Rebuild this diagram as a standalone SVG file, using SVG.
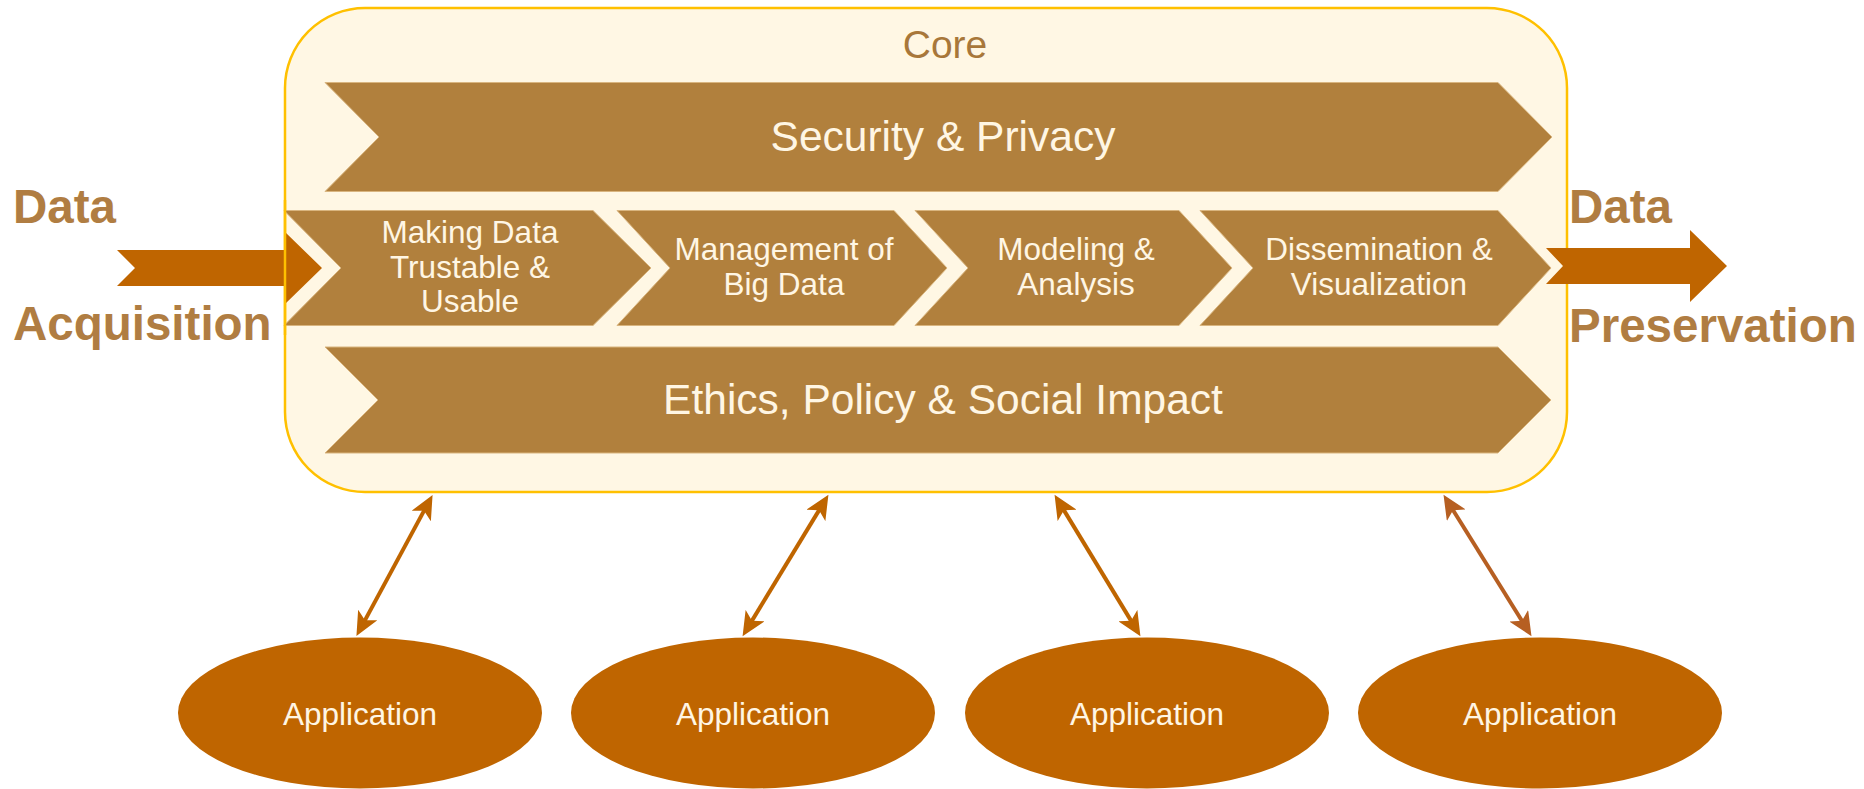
<svg xmlns="http://www.w3.org/2000/svg" width="1864" height="789" viewBox="0 0 1864 789">
<defs>
<style>
.band{fill:#B1803D;stroke:#D9B57F;stroke-width:1}
.flow{fill:#BF6500}
.lbl{font-family:"Liberation Sans",Arial,sans-serif;fill:#FFF6E4;text-anchor:middle}
.side{font-family:"Liberation Sans",Arial,sans-serif;font-weight:bold;font-size:47.5px;fill:#B07D42}
.app{fill:#BF6500}
.conn{stroke:#BF6500;stroke-width:4;fill:none;marker-start:url(#ah);marker-end:url(#ah)}
.conn4{stroke:#B65F22;stroke-width:4;fill:none;marker-start:url(#ah4);marker-end:url(#ah4)}
</style>
<marker id="ah" markerUnits="userSpaceOnUse" markerWidth="26" markerHeight="22" refX="7" refY="11" orient="auto-start-reverse" viewBox="0 0 26 22">
<path d="M0,0 L24,11 L0,22 L6,11 Z" fill="#BF6500"/>
</marker>
<marker id="ah4" markerUnits="userSpaceOnUse" markerWidth="26" markerHeight="22" refX="7" refY="11" orient="auto-start-reverse" viewBox="0 0 26 22">
<path d="M0,0 L24,11 L0,22 L6,11 Z" fill="#B65F22"/>
</marker>
</defs>

<g id="core">
<rect x="285" y="8" width="1282" height="484" rx="80" ry="80" fill="#FFF7E4" stroke="#FFC000" stroke-width="2.5"/>
<text x="945" y="58" class="lbl" style="font-size:39px;fill:#A8773A">Core</text>
</g>

<g id="security">
<polygon class="band" points="325,82.5 1498,82.5 1552,137 1498,191.5 325,191.5 379,137"/>
<text x="943" y="151" class="lbl" style="font-size:42.5px">Security &amp; Privacy</text>
</g>

<g id="ethics">
<polygon class="band" points="325,347 1498,347 1551,400 1498,453 325,453 378,400"/>
<text x="943" y="414" class="lbl" style="font-size:42.5px">Ethics, Policy &amp; Social Impact</text>
</g>

<g id="data-acquisition">
<polygon class="flow" points="117,250 285,250 285,232 322,268 285,304 285,286 117,286 135,268"/>
<text x="13" y="223" class="side">Data</text>
<text x="13" y="340" class="side">Acquisition</text>
</g>

<g id="trustable">
<polygon class="band" points="284,210.5 593,210.5 651,268 593,325.5 284,325.5 341,268"/>
<text class="lbl" style="font-size:31.5px"><tspan x="470" y="243">Making Data</tspan><tspan x="470" y="277.5">Trustable &amp;</tspan><tspan x="470" y="312">Usable</tspan></text>
</g>

<g id="management">
<polygon class="band" points="617,210.5 894,210.5 947,268 894,325.5 617,325.5 670,268"/>
<text class="lbl" style="font-size:31.5px"><tspan x="784" y="260">Management of</tspan><tspan x="784" y="294.5">Big Data</tspan></text>
</g>

<g id="modeling">
<polygon class="band" points="915,210.5 1179,210.5 1232,268 1179,325.5 915,325.5 968,268"/>
<text class="lbl" style="font-size:31.5px"><tspan x="1076" y="260">Modeling &amp;</tspan><tspan x="1076" y="294.5">Analysis</tspan></text>
</g>

<g id="dissemination">
<polygon class="band" points="1200,210.5 1498,210.5 1551,268 1498,325.5 1200,325.5 1253,268"/>
<text class="lbl" style="font-size:31.5px"><tspan x="1379" y="260">Dissemination &amp;</tspan><tspan x="1379" y="294.5">Visualization</tspan></text>
</g>

<line x1="285" y1="200" x2="285" y2="335" stroke="#FFC000" stroke-width="2.5"/>

<g id="data-preservation">
<polygon class="flow" points="1546,248 1690,248 1690,230 1727,266 1690,302 1690,284 1546,284 1563,266"/>
<text x="1569" y="223" class="side">Data</text>
<text x="1569" y="342" class="side">Preservation</text>
</g>

<g id="connectors">
<line class="conn" x1="424.5" y1="509.9" x2="364.5" y2="621.1"/>
<line class="conn" x1="819.6" y1="509.4" x2="751.4" y2="621.6"/>
<line class="conn" x1="1063.4" y1="509.4" x2="1131.6" y2="621.6"/>
<line class="conn4" x1="1452.5" y1="509.3" x2="1522.5" y2="621.7"/>
</g>

<g id="app1">
<ellipse cx="360" cy="713" rx="182" ry="75.5" class="app"/>
<text x="360" y="725" class="lbl" style="font-size:31.5px">Application</text>
</g>
<g id="app2">
<ellipse cx="753" cy="713" rx="182" ry="75.5" class="app"/>
<text x="753" y="725" class="lbl" style="font-size:31.5px">Application</text>
</g>
<g id="app3">
<ellipse cx="1147" cy="713" rx="182" ry="75.5" class="app"/>
<text x="1147" y="725" class="lbl" style="font-size:31.5px">Application</text>
</g>
<g id="app4">
<ellipse cx="1540" cy="713" rx="182" ry="75.5" class="app"/>
<text x="1540" y="725" class="lbl" style="font-size:31.5px">Application</text>
</g>
</svg>
